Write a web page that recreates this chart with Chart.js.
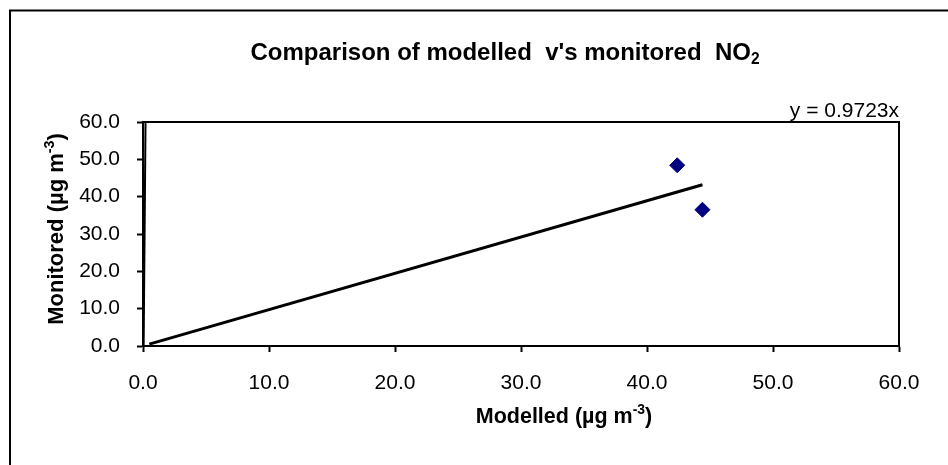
<!DOCTYPE html>
<html>
<head>
<meta charset="utf-8">
<title>Comparison of modelled v's monitored NO2</title>
<script src="https://cdn.jsdelivr.net/npm/chart.js@4.4.1/dist/chart.umd.min.js"></script>
<style>
    html, body { margin: 0; padding: 0; background: #fff; }
    canvas { display: block; }
</style>
</head>
<body>
<canvas id="no2Chart" width="948" height="465"></canvas>
<script>
// Values
const modelled = [42.4, 44.4];
const monitored = [48.4, 36.5];

// Linear trendline y = 0.9723x, end points
const trendX = [0.5, 44.4];
const trendY = [0.5, 43.2];

// Near-vertical line hugging the y axis
const steepX = [0.05, 0.2];
const steepY = [0, 60];

const xTicks = [0, 10, 20, 30, 40, 50, 60];
const yTicks = [0, 10, 20, 30, 40, 50, 60];

const trendLabel = 'y = 0.9723x';
const FONT = '"Liberation Sans", Arial, sans-serif';

function toPoints(xs, ys) {
    return xs.map((x, i) => ({ x: x, y: ys[i] }));
}

// Draws text with sub/superscript parts
function drawRich(ctx, parts, x, y, size, bold, align) {
    const weight = bold ? 'bold ' : '';
    const widths = parts.map(p => {
        const s = (p.sup || p.sub) ? size * 0.65 : size;
        ctx.font = weight + s + 'px ' + FONT;
        return ctx.measureText(p.t).width;
    });
    const total = widths.reduce((a, b) => a + b, 0);
    let cx = align === 'right' ? x - total : x - total / 2;
    ctx.textAlign = 'left';
    ctx.textBaseline = 'middle';
    parts.forEach((p, i) => {
        const s = (p.sup || p.sub) ? size * 0.65 : size;
        let dy = 0;
        if (p.sup) dy = -size * 0.32;
        if (p.sub) dy = size * 0.28;
        ctx.font = weight + s + 'px ' + FONT;
        ctx.fillText(p.t, cx, y + dy);
        cx += widths[i];
    });
}

const decorations = {
    id: 'decorations',
    afterDraw(chart) {
        const ctx = chart.ctx;
        const area = chart.chartArea;
        ctx.save();

        // outer frame (only top and left edges fall inside the picture)
        ctx.strokeStyle = '#000';
        ctx.lineWidth = 2;
        ctx.beginPath();
        ctx.moveTo(10, 470);
        ctx.lineTo(10, 10.5);
        ctx.lineTo(960, 10.5);
        ctx.stroke();

        // plot area top and right border
        ctx.lineWidth = 2;
        ctx.beginPath();
        ctx.moveTo(area.left, area.top);
        ctx.lineTo(area.right, area.top);
        ctx.lineTo(area.right, area.bottom);
        ctx.stroke();

        ctx.fillStyle = '#000';
        drawRich(ctx, [{ t: "Comparison of modelled  v's monitored  NO" }, { t: '2', sub: true }],
            505, 53, 24, true, 'center');

        drawRich(ctx, [{ t: 'Modelled (µg m' }, { t: '-3', sup: true }, { t: ')' }],
            564, 417, 21.5, true, 'center');

        ctx.save();
        ctx.translate(57, 229);
        ctx.rotate(-Math.PI / 2);
        drawRich(ctx, [{ t: 'Monitored (µg m' }, { t: '-3', sup: true }, { t: ')' }],
            0, 0, 22, true, 'center');
        ctx.restore();

        drawRich(ctx, [{ t: trendLabel }], area.right, 111, 21, false, 'right');

        ctx.restore();
    }
};

const ctx = document.getElementById('no2Chart').getContext('2d');

new Chart(ctx, {
    type: 'scatter',
    data: {
        datasets: [
            {
                label: 'Sites',
                data: toPoints(modelled, monitored),
                pointStyle: 'rectRot',
                pointRadius: 7.5,
                pointHoverRadius: 7.5,
                backgroundColor: '#000080',
                borderColor: '#000080',
                borderWidth: 1,
                order: 1
            },
            {
                label: trendLabel,
                data: toPoints(trendX, trendY),
                showLine: true,
                borderColor: '#000',
                borderWidth: 3,
                pointRadius: 0,
                order: 2
            },
            {
                label: 'steep',
                data: toPoints(steepX, steepY),
                showLine: true,
                borderColor: '#000',
                borderWidth: 2,
                pointRadius: 0,
                order: 3
            }
        ]
    },
    options: {
        responsive: false,
        animation: false,
        devicePixelRatio: 1,
        layout: {
            padding: { top: 122, left: 0, right: 49, bottom: 0 }
        },
        plugins: {
            legend: { display: false },
            title: { display: false },
            tooltip: { enabled: false }
        },
        scales: {
            x: {
                type: 'linear',
                min: 0,
                max: 60,
                afterBuildTicks: scale => {
                    scale.ticks = xTicks.map(v => ({ value: v }));
                },
                afterFit: scale => { scale.height = 119; },
                grid: {
                    display: true,
                    drawOnChartArea: false,
                    drawTicks: true,
                    tickLength: 6,
                    tickWidth: 2,
                    tickColor: '#000'
                },
                border: { display: true, color: '#000', width: 2 },
                ticks: {
                    padding: 19,
                    color: '#000',
                    maxRotation: 0,
                    font: { family: FONT, size: 21 },
                    callback: value => value.toFixed(1)
                }
            },
            y: {
                type: 'linear',
                min: 0,
                max: 60,
                afterBuildTicks: scale => {
                    scale.ticks = yTicks.map(v => ({ value: v }));
                },
                afterFit: scale => { scale.width = 143; },
                grid: {
                    display: true,
                    drawOnChartArea: false,
                    drawTicks: true,
                    tickLength: 6,
                    tickWidth: 2,
                    tickColor: '#000'
                },
                border: { display: true, color: '#000', width: 2 },
                ticks: {
                    padding: 17,
                    color: '#000',
                    font: { family: FONT, size: 21 },
                    callback: value => value.toFixed(1)
                }
            }
        }
    },
    plugins: [decorations]
});
</script>
</body>
</html>
